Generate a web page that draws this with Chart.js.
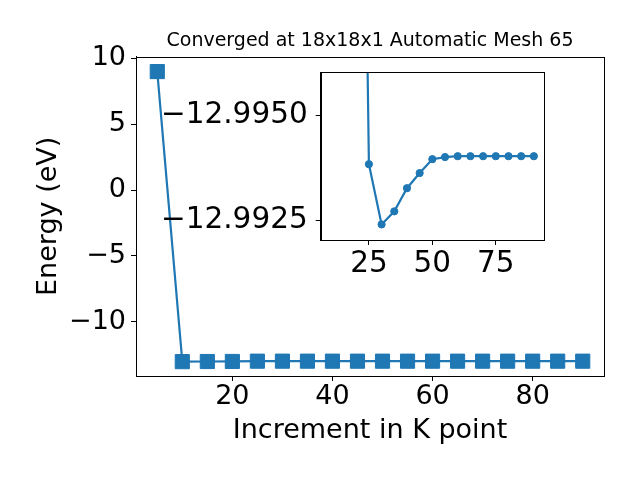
<!DOCTYPE html>
<html>
<head>
<meta charset="utf-8">
<script src="https://cdn.jsdelivr.net/npm/chart.js@4.4.1/dist/chart.umd.min.js"></script>
<style>
  body { margin: 0; background: #fff; }
  #wrap { position: relative; width: 640px; height: 480px; }
  #inset { position: absolute; left: 140px; top: 52px; }
</style>
</head>
<body>
<div id="wrap">
  <canvas id="main" width="640" height="480"></canvas>
  <canvas id="inset" width="420" height="238"></canvas>
</div>
<script>
// datos
const kPoints = [5, 10, 15, 20, 25, 30, 35, 40, 45, 50, 55, 60, 65, 70, 75, 80, 85, 90];
const energies = [
  9.0, -13.03, -13.02, -13.0155, -12.99384, -12.99241, -12.99272, -12.99327, -12.99363,
  -12.99396, -12.99401, -12.99403, -12.99403, -12.99403, -12.99403, -12.99403, -12.99403, -12.99403,
];
const mainXTicks = [20, 40, 60, 80];
const mainYTicks = [10, 5, 0, -5, -10];
const insetXTicks = [25, 50, 75];
const insetYTicks = [-12.995, -12.9925];

const titulo = "Converged at 18x18x1 Automatic Mesh 65";
const BLUE = "#1f77b4";
const FONT = "DejaVu Sans";

function menos(v, dec) {
  let s = dec ? Math.abs(v).toFixed(dec) : String(Math.abs(v));
  return v < 0 ? "\u2212" + s : s;
}

// matplotlib dibuja los 4 lados del eje
const spines = {
  id: "spines",
  beforeDraw(chart, args, opts) {
    if (!opts.fill) return;
    const { left, top, right, bottom } = chart.chartArea;
    chart.ctx.save();
    chart.ctx.fillStyle = "#fff";
    chart.ctx.fillRect(left, top, right - left, bottom - top);
    chart.ctx.restore();
  },
  afterDraw(chart) {
    const { left, top, right, bottom } = chart.chartArea;
    const ctx = chart.ctx;
    ctx.save();
    ctx.strokeStyle = "#000";
    ctx.lineWidth = 1;
    ctx.strokeRect(Math.round(left) + 0.5, Math.round(top) + 0.5, Math.round(right - left), Math.round(bottom - top));
    ctx.restore();
  },
};

function sinPadding(axis) {
  axis.paddingTop = 0;
  axis.paddingBottom = 0;
  axis.paddingLeft = 0;
  axis.paddingRight = 0;
}

function ejeX(min, max, ticks, alto, titulo, tituloPad, size, pad) {
  return {
    type: "linear",
    min: min,
    max: max,
    afterBuildTicks: (axis) => {
      axis.ticks = ticks.map((v) => ({ value: v }));
    },
    afterFit: (axis) => {
      axis.height = alto;
      sinPadding(axis);
    },
    grid: { drawOnChartArea: false, drawTicks: true, tickLength: 5, color: "#000", tickColor: "#000" },
    border: { display: true, color: "#000", width: 1 },
    ticks: { color: "#000", font: { family: FONT, size: size }, padding: pad, maxRotation: 0, autoSkip: false },
    title: {
      display: !!titulo,
      text: titulo,
      color: "#000",
      font: { family: FONT, size: 27 },
      padding: { top: 0, bottom: tituloPad },
    },
  };
}

function ejeY(min, max, ticks, ancho, dec, reverse, titulo) {
  return {
    type: "linear",
    min: min,
    max: max,
    reverse: reverse,
    afterBuildTicks: (axis) => {
      axis.ticks = ticks.map((v) => ({ value: v }));
    },
    afterFit: (axis) => {
      axis.width = ancho;
      sinPadding(axis);
    },
    grid: { drawOnChartArea: false, drawTicks: true, tickLength: 5, color: "#000", tickColor: "#000" },
    border: { display: true, color: "#000", width: 1 },
    ticks: {
      color: "#000",
      font: { family: FONT, size: dec ? 29.5 : 27 },
      padding: dec ? 8 : 5,
      autoSkip: false,
      callback: (v) => menos(v, dec),
    },
    title: {
      display: !!titulo,
      text: titulo,
      color: "#000",
      font: { family: FONT, size: 27 },
      padding: { top: 32.8, bottom: 0 },
    },
  };
}

function runGraphics() {
  const puntos = kPoints.map((k, i) => ({ x: k, y: energies[i] }));

  new Chart("main", {
    type: "line",
    data: {
      datasets: [
        {
          data: puntos,
          borderColor: BLUE,
          backgroundColor: BLUE,
          borderWidth: 2.2,
          pointStyle: "rect",
          pointRadius: 10,
          pointBorderWidth: 1,
          pointBorderColor: BLUE,
          tension: 0,
        },
      ],
    },
    options: {
      responsive: false,
      animation: false,
      devicePixelRatio: 1,
      layout: { padding: { top: 0, left: 0, right: 36, bottom: 0 } },
      plugins: {
        legend: { display: false },
        tooltip: { enabled: false },
        spines: { fill: false },
        title: {
          display: true,
          text: titulo,
          color: "#000",
          fullSize: false,
          font: { family: FONT, size: 19, weight: "normal" },
          padding: { top: 29.6, bottom: 4.3 },
        },
      },
      scales: {
        x: ejeX(0.75, 94.25, mainXTicks, 104, "Increment in K point", 32.5, 27, 0),
        y: ejeY(-14.12, 10.13, mainYTicks, 136, 0, false, "Energy (eV)"),
      },
    },
    plugins: [spines],
  });

  // grafico pequeño (sin el primer punto)
  new Chart("inset", {
    type: "line",
    data: {
      datasets: [
        {
          data: puntos.slice(1),
          borderColor: BLUE,
          backgroundColor: BLUE,
          borderWidth: 2.2,
          pointStyle: "circle",
          pointRadius: 3.6,
          pointBorderWidth: 1,
          pointBorderColor: BLUE,
          tension: 0,
        },
      ],
    },
    options: {
      responsive: false,
      animation: false,
      devicePixelRatio: 1,
      layout: { padding: { top: 20, left: 0, right: 16, bottom: 0 } },
      plugins: {
        legend: { display: false },
        tooltip: { enabled: false },
        spines: { fill: true },
      },
      scales: {
        x: ejeX(6, 94, insetXTicks, 50, "", 0, 29.5, 2),
        y: ejeY(-12.99603, -12.99204, insetYTicks, 180.7, 4, true, ""),
      },
    },
    plugins: [spines],
  });
}

runGraphics();
</script>
</body>
</html>
